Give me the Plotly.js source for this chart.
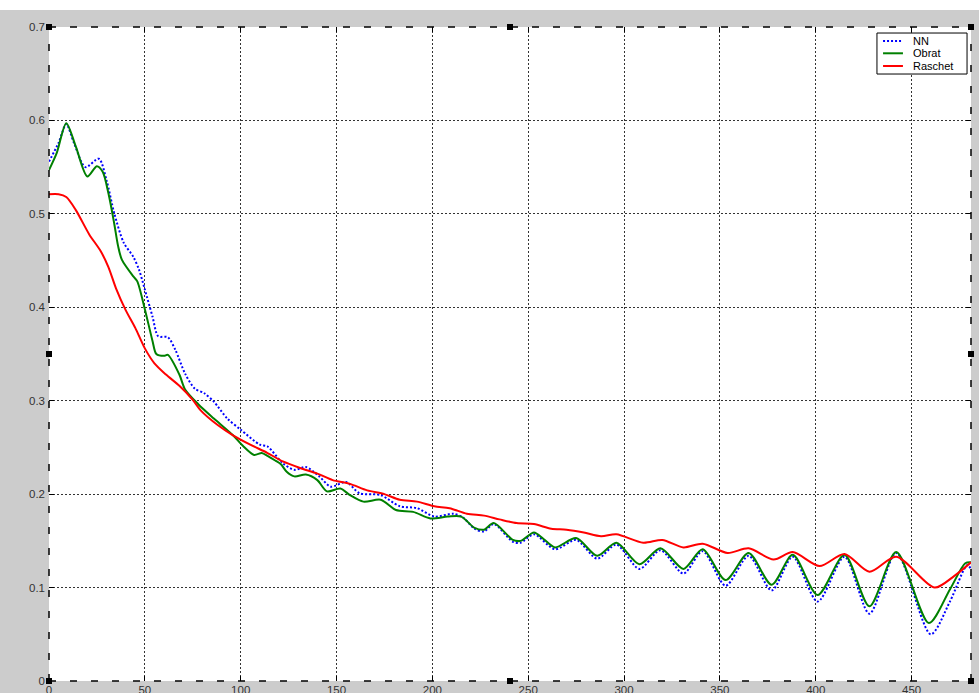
<!DOCTYPE html>
<html>
<head>
<meta charset="utf-8">
<script src="https://cdn.plot.ly/plotly-3.0.1.min.js"></script>
<style>
  html, body { margin: 0; padding: 0; background: #ffffff; }
  #chart { position: absolute; left: 0; top: 10px; width: 979px; height: 683px; }
</style>
</head>
<body>
<div id="chart"></div>
<script>
// Series
const nnX = [0, 5, 9, 13, 19, 26, 30, 34, 39, 44, 47, 50, 54, 57, 62, 66, 71, 76, 81, 86, 93, 100, 110, 114, 122, 128, 134, 141, 147, 155, 162, 173, 183, 192, 201, 211, 216, 222, 227, 232, 242, 246, 253, 264, 275, 286, 296, 308, 319, 331, 341, 353, 365, 377, 388, 401, 415, 428, 442, 460, 470, 479, 481];
const nnY = [0.556, 0.576, 0.596, 0.576, 0.550, 0.559, 0.536, 0.501, 0.469, 0.454, 0.440, 0.419, 0.390, 0.369, 0.368, 0.354, 0.329, 0.313, 0.308, 0.299, 0.281, 0.269, 0.253, 0.251, 0.233, 0.226, 0.229, 0.219, 0.208, 0.213, 0.201, 0.199, 0.187, 0.185, 0.176, 0.179, 0.175, 0.163, 0.160, 0.168, 0.149, 0.148, 0.157, 0.141, 0.151, 0.131, 0.146, 0.120, 0.140, 0.115, 0.139, 0.102, 0.134, 0.097, 0.133, 0.085, 0.133, 0.072, 0.137, 0.050, 0.085, 0.124, 0.120];

const obratX = [0, 4, 9, 14, 20, 25, 28, 31, 34, 36, 38, 44, 46, 50, 54, 56, 60, 62, 68, 71, 78, 86, 96, 101, 107, 111, 114, 118, 121, 124, 128, 134, 140, 145, 152, 157, 164, 173, 181, 190, 199, 208, 215, 222, 227, 232, 242, 246, 253, 258, 264, 275, 286, 296, 308, 319, 331, 341, 353, 365, 377, 388, 401, 415, 428, 442, 459, 470, 478, 481];
const obratY = [0.547, 0.565, 0.597, 0.572, 0.540, 0.551, 0.545, 0.522, 0.490, 0.466, 0.451, 0.433, 0.428, 0.398, 0.364, 0.350, 0.348, 0.349, 0.328, 0.312, 0.296, 0.281, 0.263, 0.252, 0.242, 0.244, 0.241, 0.236, 0.232, 0.224, 0.219, 0.221, 0.215, 0.203, 0.206, 0.199, 0.192, 0.194, 0.183, 0.181, 0.174, 0.176, 0.176, 0.164, 0.162, 0.169, 0.151, 0.150, 0.159, 0.152, 0.143, 0.153, 0.134, 0.148, 0.125, 0.142, 0.120, 0.141, 0.108, 0.137, 0.103, 0.135, 0.092, 0.135, 0.080, 0.138, 0.062, 0.098, 0.126, 0.127];

const raschetX = [0, 5, 9, 14, 21, 27, 31, 35, 40, 45, 50, 55, 61, 68, 75, 79, 88, 96, 105, 114, 122, 131, 140, 148, 157, 166, 175, 183, 192, 201, 209, 218, 227, 235, 244, 253, 262, 270, 279, 288, 296, 310, 320, 331, 341, 354, 365, 378, 388, 402, 415, 428, 442, 462, 472, 481];
const raschetY = [0.521, 0.521, 0.518, 0.504, 0.478, 0.460, 0.443, 0.420, 0.397, 0.378, 0.356, 0.340, 0.328, 0.316, 0.301, 0.290, 0.274, 0.263, 0.253, 0.244, 0.235, 0.228, 0.222, 0.215, 0.211, 0.204, 0.200, 0.194, 0.192, 0.187, 0.185, 0.179, 0.177, 0.173, 0.169, 0.168, 0.163, 0.162, 0.159, 0.155, 0.157, 0.148, 0.151, 0.143, 0.147, 0.137, 0.142, 0.130, 0.138, 0.123, 0.136, 0.117, 0.133, 0.100, 0.112, 0.127];

const seriesNames = ['NN', 'Obrat', 'Raschet'];
const seriesColors = ['#0000ff', '#008000', '#ff0000'];
const seriesDash = ['2px,2px', 'solid', 'solid'];
const xTicks = [0, 50, 100, 150, 200, 250, 300, 350, 400, 450];
const yTicks = [0, 0.1, 0.2, 0.3, 0.4, 0.5, 0.6, 0.7];
const yTickText = ['0', '0.1', '0.2', '0.3', '0.4', '0.5', '0.6', '0.7'];

const traces = [
  { x: nnX, y: nnY, name: seriesNames[0], type: 'scatter', mode: 'lines',
    line: { color: seriesColors[0], width: 2, dash: seriesDash[0], shape: 'spline', smoothing: 0.8 } },
  { x: obratX, y: obratY, name: seriesNames[1], type: 'scatter', mode: 'lines',
    line: { color: seriesColors[1], width: 2, shape: 'spline', smoothing: 0.8 } },
  { x: raschetX, y: raschetY, name: seriesNames[2], type: 'scatter', mode: 'lines',
    line: { color: seriesColors[2], width: 2, shape: 'spline', smoothing: 0.8 } }
];

function handle(px, py) {
  return { type: 'rect', xref: 'paper', yref: 'paper',
    xsizemode: 'pixel', ysizemode: 'pixel', xanchor: px, yanchor: py,
    x0: -3, x1: 3, y0: -3, y1: 3,
    fillcolor: '#000000', line: { width: 0 } };
}
function border(x0, y0, x1, y1) {
  return { type: 'line', xref: 'paper', yref: 'paper', x0: x0, y0: y0, x1: x1, y1: y1,
    line: { color: '#000000', width: 1.5, dash: '7px,14px' } };
}

const axisFont = { family: 'Liberation Sans, Arial, sans-serif', size: 11.5, color: '#333333' };
const legendFont = { family: 'Liberation Sans, Arial, sans-serif', size: 11, color: '#000000' };

// Compact legend box (MATLAB style), placed in paper coordinates
const legBox = { x0: 0.8980, x1: 0.9957, y0: 0.9281, y1: 0.9908 };
const legRows = [0.9786, 0.9598, 0.9404];
const legShapes = [{ type: 'rect', xref: 'paper', yref: 'paper',
  x0: legBox.x0, x1: legBox.x1, y0: legBox.y0, y1: legBox.y1,
  fillcolor: '#ffffff', line: { color: '#000000', width: 1 }, layer: 'above' }];
const legAnn = [];
seriesNames.forEach(function (n, i) {
  legShapes.push({ type: 'line', xref: 'paper', yref: 'paper',
    x0: 0.9046, x1: 0.9262, y0: legRows[i], y1: legRows[i],
    line: { color: seriesColors[i], width: 2, dash: seriesDash[i] }, layer: 'above' });
  legAnn.push({ xref: 'paper', yref: 'paper', x: 0.9352, y: legRows[i],
    xanchor: 'left', yanchor: 'middle', text: n, showarrow: false, font: legendFont });
});

const layout = {
  width: 979, height: 683,
  margin: { l: 49, r: 8, t: 17, b: 12, pad: 0 },
  paper_bgcolor: '#cccccc',
  plot_bgcolor: '#ffffff',
  showlegend: false,
  xaxis: {
    range: [0, 481], tickvals: xTicks, ticktext: xTicks.map(String),
    ticks: 'inside', ticklen: 5, tickcolor: '#000000', mirror: 'ticks',
    showline: false, zeroline: false,
    showgrid: true, gridcolor: '#333333', gridwidth: 1, griddash: '2px,2px',
    tickfont: axisFont
  },
  yaxis: {
    range: [0, 0.7], tickvals: yTicks, ticktext: yTickText,
    ticks: 'inside', ticklen: 5, tickcolor: '#000000', mirror: 'ticks',
    showline: false, zeroline: false, ticklabelstandoff: 3,
    showgrid: true, gridcolor: '#333333', gridwidth: 1, griddash: '2px,2px',
    tickfont: axisFont
  },
  shapes: [
    border(0, 1, 1, 1), border(0, 0, 1, 0), border(0, 0, 0, 1), border(1, 0, 1, 1),
    handle(0, 1), handle(0.5, 1), handle(1, 1),
    handle(0, 0.5), handle(1, 0.5),
    handle(0, 0), handle(0.5, 0), handle(1, 0)
  ].concat(legShapes),
  annotations: legAnn
};

Plotly.newPlot('chart', traces, layout, { displayModeBar: false, staticPlot: true });
</script>
</body>
</html>
